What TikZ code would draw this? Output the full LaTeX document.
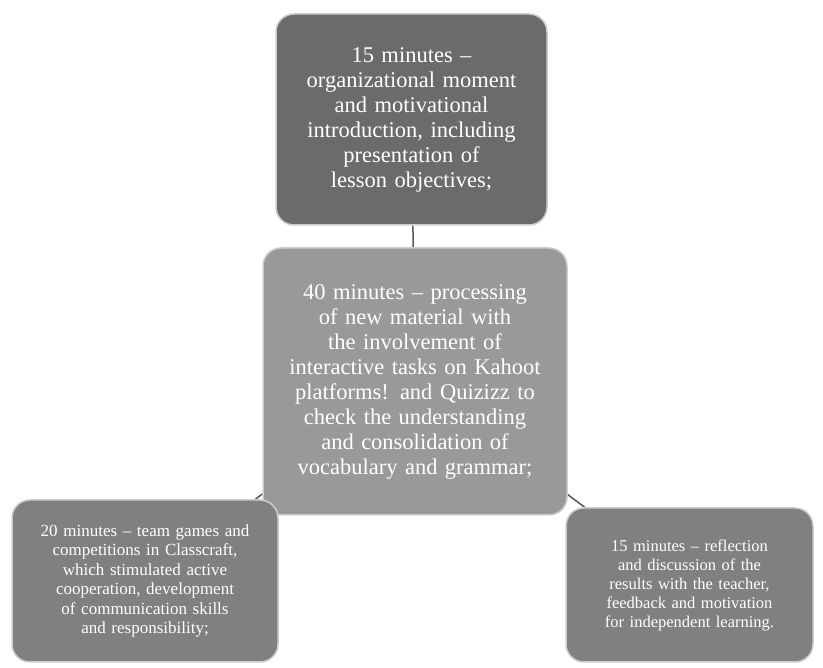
\documentclass[tikz,border=0pt]{standalone}
\usepackage{fontspec}
\setmainfont{Liberation Serif}
\usetikzlibrary{backgrounds}
\begin{document}
\begin{tikzpicture}[x=1pt,y=1pt,
  box/.style={draw=gray!40,line width=1.5pt,rounded corners=18pt,text=white,align=center,inner sep=4pt},
  link/.style={draw=gray!70!black,line width=1.5pt}]
\useasboundingbox (0,0) rectangle (823,668);
\hyphenpenalty=10000
\node[box,fill=black!58,minimum width=271,minimum height=211,text width=245,font=\fontsize{22.5}{25}\selectfont] (top) at (411.5,548.5)
  {15 minutes --\\ organizational moment and motivational introduction, including presentation of lesson objectives;};
\node[box,fill=black!40,minimum width=304,minimum height=267,text width=268,font=\fontsize{22.5}{25}\selectfont] (mid) at (415,286.5)
  {40 minutes -- processing of new material with the involvement of interactive tasks on Kahoot platforms! and Quizizz to check the understanding and consolidation of vocabulary and grammar;};
\node[box,fill=black!50,minimum width=266,minimum height=162,text width=230,font=\fontsize{17}{19.5}\selectfont] (left) at (145,87)
  {20 minutes -- team games and competitions in Classcraft, which stimulated active cooperation, development of communication skills and responsibility;};
\node[box,fill=black!50,minimum width=247,minimum height=154,text width=210,font=\fontsize{16.5}{19}\selectfont] (right) at (689.5,83)
  {15 minutes -- reflection and discussion of the results with the teacher, feedback and motivation for independent learning.};
\begin{scope}[on background layer]
\draw[link] (top) -- (mid);
\draw[link] (mid) -- (left);
\draw[link] (mid) -- (right);
\end{scope}
\end{tikzpicture}
\end{document}
